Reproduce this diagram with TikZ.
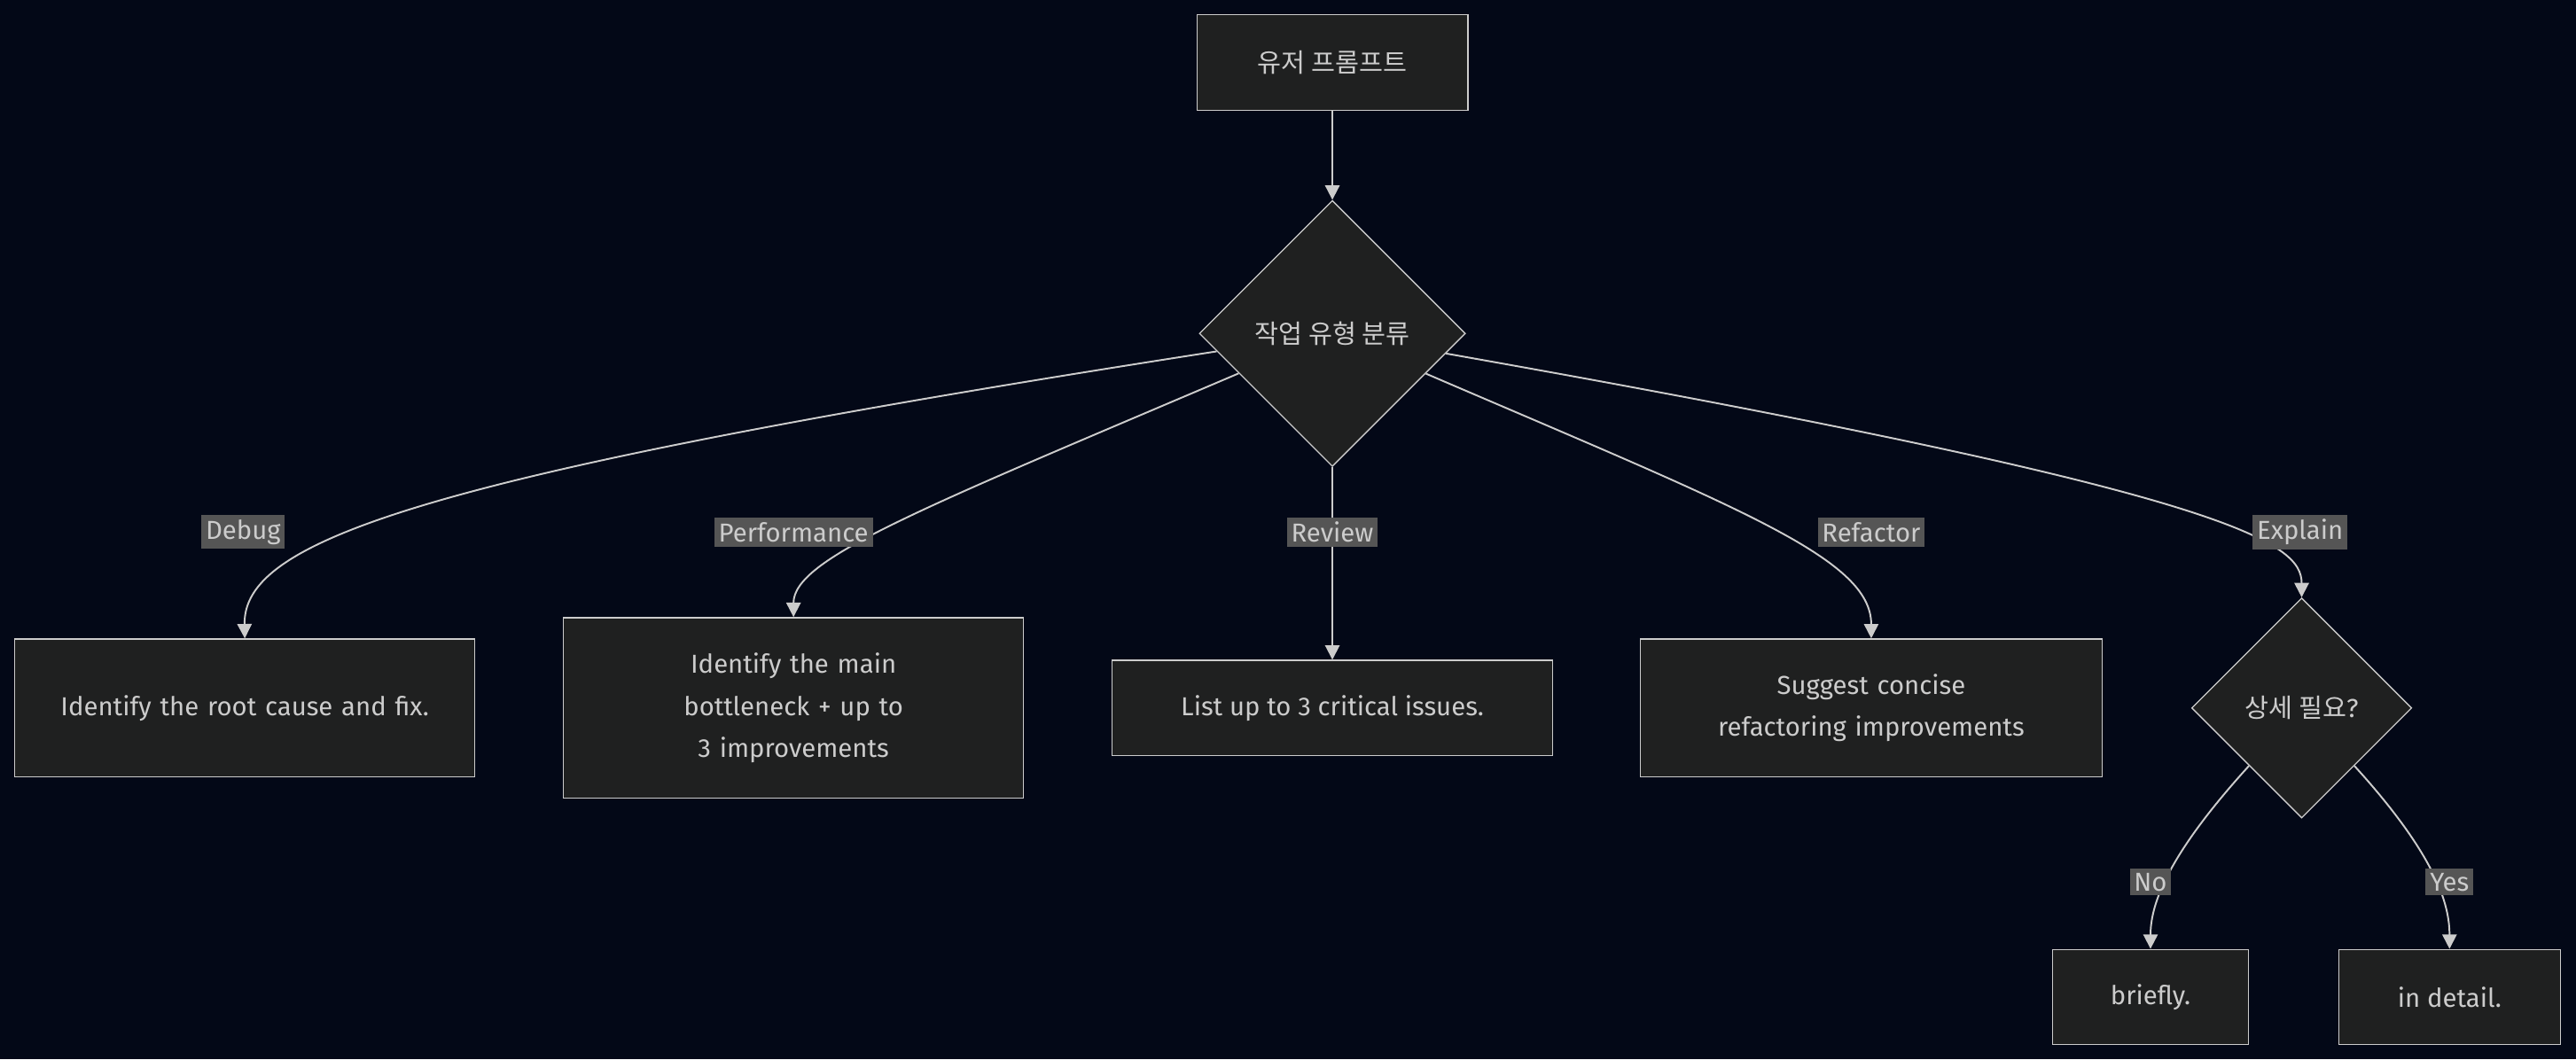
\documentclass[tikz,border=0pt]{standalone}
\usepackage{fontspec}
\setmainfont{Fira Sans}
\newfontfamily\kr{Noto Sans CJK KR}
\usetikzlibrary{shapes.geometric,arrows.meta}
\definecolor{bgc}{HTML}{030817}
\definecolor{boxc}{HTML}{1F2020}
\definecolor{linec}{HTML}{CCCCCC}
\definecolor{lblc}{HTML}{555555}
\tikzset{
  box/.style={draw=linec, fill=boxc, text=linec, align=center, inner sep=0pt},
  choice/.style={diamond, draw=linec, fill=boxc, text=linec, inner sep=0pt, minimum size=3.24cm},
  edge/.style={draw=linec, line width=0.6pt, -{Triangle[length=5pt,width=5pt]}},
  lbl/.style={fill=lblc, text=linec, inner sep=1.5pt}
}
\begin{document}
\begin{tikzpicture}[x=0.02cm, y=-0.02cm, font=\fontsize{9}{14.5}\selectfont]
  \fill[bgc] (0,0) rectangle (1568,645);
  \useasboundingbox (0,0) rectangle (1568,645);

  \node[box, minimum width=3.3cm, minimum height=1.16cm] (prompt) at (811,38) {\kr 유저 프롬프트};
  \node[choice] (cls) at (811,203) {\kr 작업 유형 분류};
  \node[box, minimum width=5.6cm, minimum height=1.68cm, text width=5cm] (debug) at (149,431) {Identify the root cause and fix.};
  \node[box, minimum width=5.6cm, minimum height=2.2cm, text width=3.6cm] (perf) at (483,431) {Identify the main bottleneck + up to 3 improvements};
  \node[box, minimum width=5.36cm, minimum height=1.16cm] (review) at (811,431) {List up to 3 critical issues.};
  \node[box, minimum width=5.62cm, minimum height=1.68cm, text width=5cm] (refactor) at (1139,431) {Suggest concise\\refactoring improvements};
  \node[choice, minimum size=2.68cm] (detail) at (1401,431) {{\kr 상세 필요}?};
  \node[box, minimum width=2.38cm, minimum height=1.16cm] (brief) at (1309,607) {briefly.};
  \node[box, minimum width=2.7cm, minimum height=1.16cm] (full) at (1491,607) {in detail.};

  % connectors
  \draw[edge] (prompt) -- (cls);
  \draw[edge] (cls) .. controls (250,290) and (148,330) .. (debug.north);
  \draw[edge] (cls) .. controls (560,310) and (483,340) .. (perf.north);
  \draw[edge] (cls) -- (review);
  \draw[edge] (cls) .. controls (1060,310) and (1139,340) .. (refactor.north);
  \draw[edge] (cls) .. controls (1360,300) and (1401,330) .. (detail.north);
  \draw[edge] (detail) .. controls (1320,520) and (1309,550) .. (brief.north);
  \draw[edge] (detail) .. controls (1482,520) and (1491,550) .. (full.north);

  % edge labels
  \node[lbl] (ldebug) at (148,324) {Debug};
  \node[lbl] (lperf) at (483,324) {Performance};
  \node[lbl] (lreview) at (811,324) {Review};
  \node[lbl] (lrefactor) at (1139,324) {Refactor};
  \node[lbl] (lexplain) at (1400,324) {Explain};
  \node[lbl] (lno) at (1309,537) {No};
  \node[lbl] (lyes) at (1491,537) {Yes};
\end{tikzpicture}
\end{document}
